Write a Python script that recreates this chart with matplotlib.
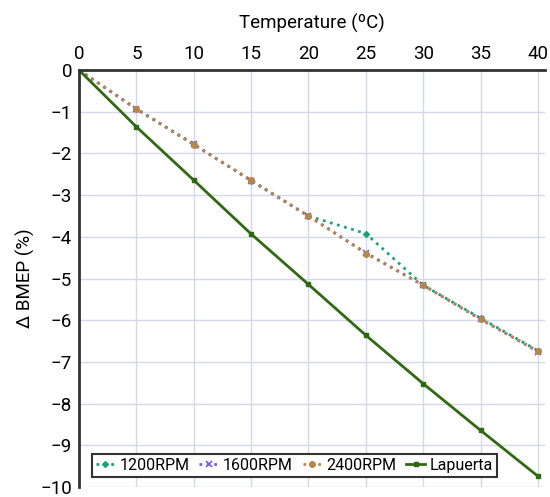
import numpy as np
import matplotlib.pyplot as plt

plt.rcParams['font.family'] = ['Roboto', 'DejaVu Sans']

# Data
temp = [0, 5, 10, 15, 20, 25, 30, 35, 40]
rpm1200 = [0, -0.93, -1.78, -2.65, -3.50, -3.92, -5.16, -5.95, -6.73]
rpm1600 = [0, -0.93, -1.78, -2.65, -3.50, -4.38, -5.16, -5.97, -6.75]
rpm2400 = [0, -0.93, -1.79, -2.64, -3.50, -4.40, -5.16, -5.98, -6.74]
lapuerta = [0, -1.36, -2.64, -3.93, -5.14, -6.36, -7.52, -8.64, -9.74]

fig = plt.figure(figsize=(5.5, 4.97), dpi=100)
ax = fig.add_axes([0.1436, 0.02, 0.847, 0.839])

ax.plot(temp, rpm1200, ':', color='#1aa37a', lw=2, marker='D', ms=3, label='1200RPM')
ax.plot(temp, rpm1600, ':', color='#7a5ce0', lw=2, marker='x', ms=4, mew=1.2, label='1600RPM')
ax.plot(temp, rpm2400, ':', color='#b8864a', lw=2, marker='o', ms=4, label='2400RPM')
ax.plot(temp, lapuerta, '-', color='#2f6a12', lw=2, marker='s', ms=3.5, label='Lapuerta')

ax.set_xlim(0, 40.6)
ax.set_ylim(-10, 0)
ax.set_xticks(np.arange(0, 41, 5))
ax.set_yticks(np.arange(-10, 1, 1))
ax.xaxis.tick_top()
ax.xaxis.set_label_position('top')
ax.set_xlabel('Temperature (ºC)', fontsize=13.5, labelpad=12)
ax.set_ylabel('Δ BMEP (%)', fontsize=13.5, labelpad=4)
ax.tick_params(length=0, labelsize=13.5, pad=5)
ax.grid(color='#d5d8ec', lw=1)
ax.set_axisbelow(True)

for s in ['bottom', 'right']:
    ax.spines[s].set_visible(False)
for s in ['top', 'left']:
    ax.spines[s].set_linewidth(2)
    ax.spines[s].set_color('#333333')

leg = ax.legend(loc='lower left', ncol=4, fontsize=11.5, handlelength=1.2,
                handletextpad=0.3, columnspacing=0.6, borderpad=0.25,
                fancybox=False, framealpha=1, bbox_to_anchor=(0.01, 0.005))
leg.get_frame().set_edgecolor('#333333')
leg.get_frame().set_linewidth(1.5)

plt.savefig('out.png', dpi=100)
